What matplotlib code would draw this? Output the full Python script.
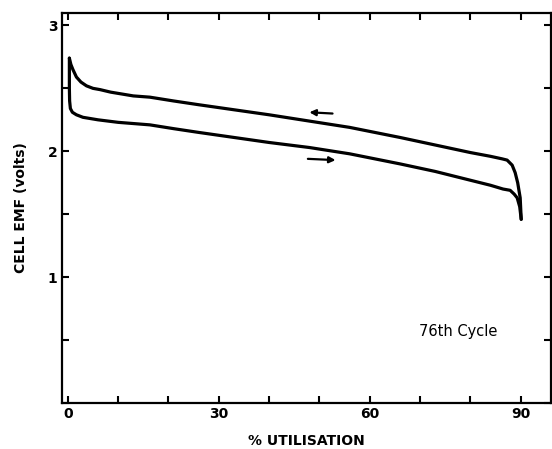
import matplotlib
matplotlib.use("Agg")
import matplotlib.pyplot as plt
from matplotlib.ticker import MultipleLocator

# charge curve (upper, runs right to left)
charge_x = [0.3, 0.6, 1.0, 1.7, 2.6, 3.7, 5.0, 6.4, 8.5, 10, 13, 16.3, 21, 26,
            33, 40, 48, 56, 61, 66, 73, 80, 84, 86.3, 87.3, 88.3, 88.9,
            89.4, 89.9, 90.1]
charge_y = [2.74, 2.69, 2.65, 2.59, 2.55, 2.52, 2.50, 2.49, 2.47, 2.46, 2.44,
            2.43, 2.40, 2.37, 2.33, 2.29, 2.24, 2.19, 2.15, 2.11, 2.05, 1.99,
            1.96, 1.94, 1.93, 1.89, 1.83, 1.75, 1.63, 1.46]

# discharge curve (lower, runs left to right)
dis_x = [0.3, 0.3, 0.35, 0.5, 0.9, 1.7, 3.0, 6.0, 10, 16.3, 21, 26, 33, 40,
         48, 56, 61, 66, 73, 80, 84, 86.5, 87.9, 88.7, 89.3, 89.8, 90.1]
dis_y = [2.74, 2.50, 2.40, 2.34, 2.31, 2.29, 2.27, 2.25, 2.23, 2.21, 2.18,
         2.15, 2.11, 2.07, 2.03, 1.98, 1.94, 1.90, 1.84, 1.77, 1.73, 1.70,
         1.69, 1.66, 1.63, 1.56, 1.46]

fig = plt.figure(figsize=(5.52, 4.49), dpi=100)
ax = fig.add_axes([0.112, 0.1024, 0.886, 0.869])

ax.plot(charge_x, charge_y, color="black", lw=2.3, solid_joinstyle="round",
        solid_capstyle="round")
ax.plot(dis_x, dis_y, color="black", lw=2.3, solid_joinstyle="round",
        solid_capstyle="round")

# direction arrows
ax.annotate("", xy=(48.0, 2.31), xytext=(52.6, 2.30),
            arrowprops=dict(arrowstyle="-|>", color="black", lw=1.6,
                            mutation_scale=9, shrinkA=0, shrinkB=0))
ax.annotate("", xy=(53.2, 1.93), xytext=(47.7, 1.94),
            arrowprops=dict(arrowstyle="-|>", color="black", lw=1.6,
                            mutation_scale=9, shrinkA=0, shrinkB=0))

ax.text(77.5, 0.57, "76th Cycle", ha="center", va="center", fontsize=10.5,
        fontweight="medium")

ax.set_xlim(-1.2, 96)
ax.set_ylim(0, 3.1)

ax.set_xticks([0, 30, 60, 90])
ax.xaxis.set_minor_locator(MultipleLocator(10))
ax.set_yticks([1, 2, 3])
ax.yaxis.set_minor_locator(MultipleLocator(0.5))

ax.tick_params(which="both", direction="in", top=True, right=True,
               width=1.5, labelsize=10, pad=3)
ax.tick_params(which="major", length=5)
ax.tick_params(which="minor", length=5)
for lab in ax.get_xticklabels() + ax.get_yticklabels():
    lab.set_fontweight("bold")

for sp in ax.spines.values():
    sp.set_linewidth(1.6)

ax.set_xlabel("% UTILISATION", fontsize=10, fontweight="bold", labelpad=9)
ax.set_ylabel("CELL EMF (volts)", fontsize=10, fontweight="bold", labelpad=14)

fig.savefig("out.png", dpi=100)
